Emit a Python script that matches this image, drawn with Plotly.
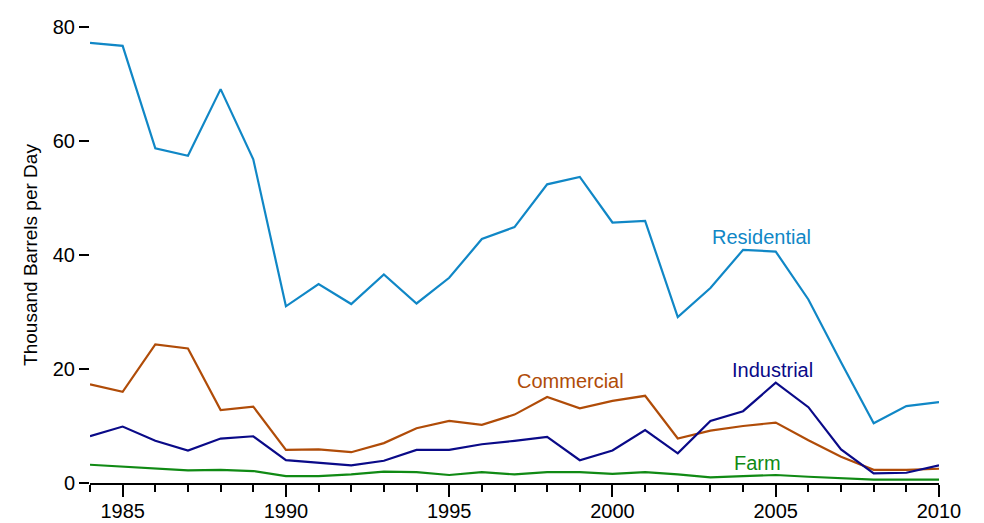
import plotly.graph_objects as go

years = list(range(1984, 2011))
residential = [77.2, 76.7, 58.7, 57.4, 69.1, 56.8, 31.0, 34.9, 31.4, 36.6, 31.5, 36.0, 42.8,
               44.9, 52.4, 53.7, 45.7, 46.0, 29.1, 34.2, 40.9, 40.6, 32.2, 21.2, 10.5, 13.5, 14.2]
commercial = [17.3, 16.0, 24.3, 23.6, 12.8, 13.4, 5.8, 5.9, 5.4, 7.0, 9.6, 10.9, 10.2,
              12.0, 15.1, 13.1, 14.4, 15.3, 7.8, 9.2, 10.0, 10.6, 7.5, 4.6, 2.3, 2.3, 2.5]
industrial = [8.2, 9.9, 7.4, 5.7, 7.8, 8.2, 4.0, 3.5, 3.1, 3.9, 5.8, 5.8, 6.8,
              7.4, 8.1, 4.0, 5.7, 9.3, 5.2, 10.9, 12.6, 17.6, 13.3, 5.9, 1.7, 1.8, 3.1]
farm = [3.2, 2.9, 2.6, 2.2, 2.3, 2.1, 1.2, 1.2, 1.5, 2.0, 1.9, 1.4, 1.9,
        1.5, 1.9, 1.9, 1.6, 1.9, 1.5, 1.0, 1.2, 1.4, 1.1, 0.8, 0.6, 0.6, 0.6]

series = [
    ("Residential", residential, "#1087c6", 2004.57, 43.2),
    ("Commercial", commercial, "#b04c08", 1998.7, 17.9),
    ("Industrial", industrial, "#0a0a88", 2004.9, 19.8),
    ("Farm", farm, "#108a14", 2004.45, 3.5),
]

FONT = "Liberation Sans, Arial"

fig = go.Figure()
annotations = []
for name, vals, color, lx, ly in series:
    fig.add_trace(go.Scatter(x=years, y=vals, mode="lines", name=name,
                             line=dict(color=color, width=2.2), showlegend=False,
                             cliponaxis=False))
    annotations.append(dict(x=lx, y=ly, xref="x", yref="y", text=name, showarrow=False,
                            font=dict(color=color, size=20, family=FONT)))

# page body has an 8px margin, so the figure is sized to fit inside the 984x523 window
fig.update_layout(
    width=976, height=515,
    margin=dict(l=82, r=45, t=19, b=40),
    plot_bgcolor="white", paper_bgcolor="white",
    font=dict(family=FONT, size=20, color="black"),
    annotations=annotations,
)
fig.update_xaxes(
    range=[1984, 2010], showgrid=False, zeroline=False, automargin=False,
    showline=True, linecolor="black", linewidth=2,
    ticks="outside", ticklen=12, tickwidth=2, tickcolor="black",
    tick0=1985, dtick=5, ticklabelstandoff=-3,
    minor=dict(dtick=1, tick0=1984, ticks="outside", ticklen=7, tickwidth=2, tickcolor="black"),
    tickfont=dict(size=20),
)
fig.update_yaxes(
    range=[0, 80], showgrid=False, zeroline=False, showline=False, automargin=False,
    ticks="outside", ticklen=10, tickwidth=2, tickcolor="black",
    tickvals=[0, 20, 40, 60, 80],
    tickfont=dict(size=20),
    title=dict(text="Thousand Barrels per Day", font=dict(size=19), standoff=10),
)

fig.write_html("out.html")
